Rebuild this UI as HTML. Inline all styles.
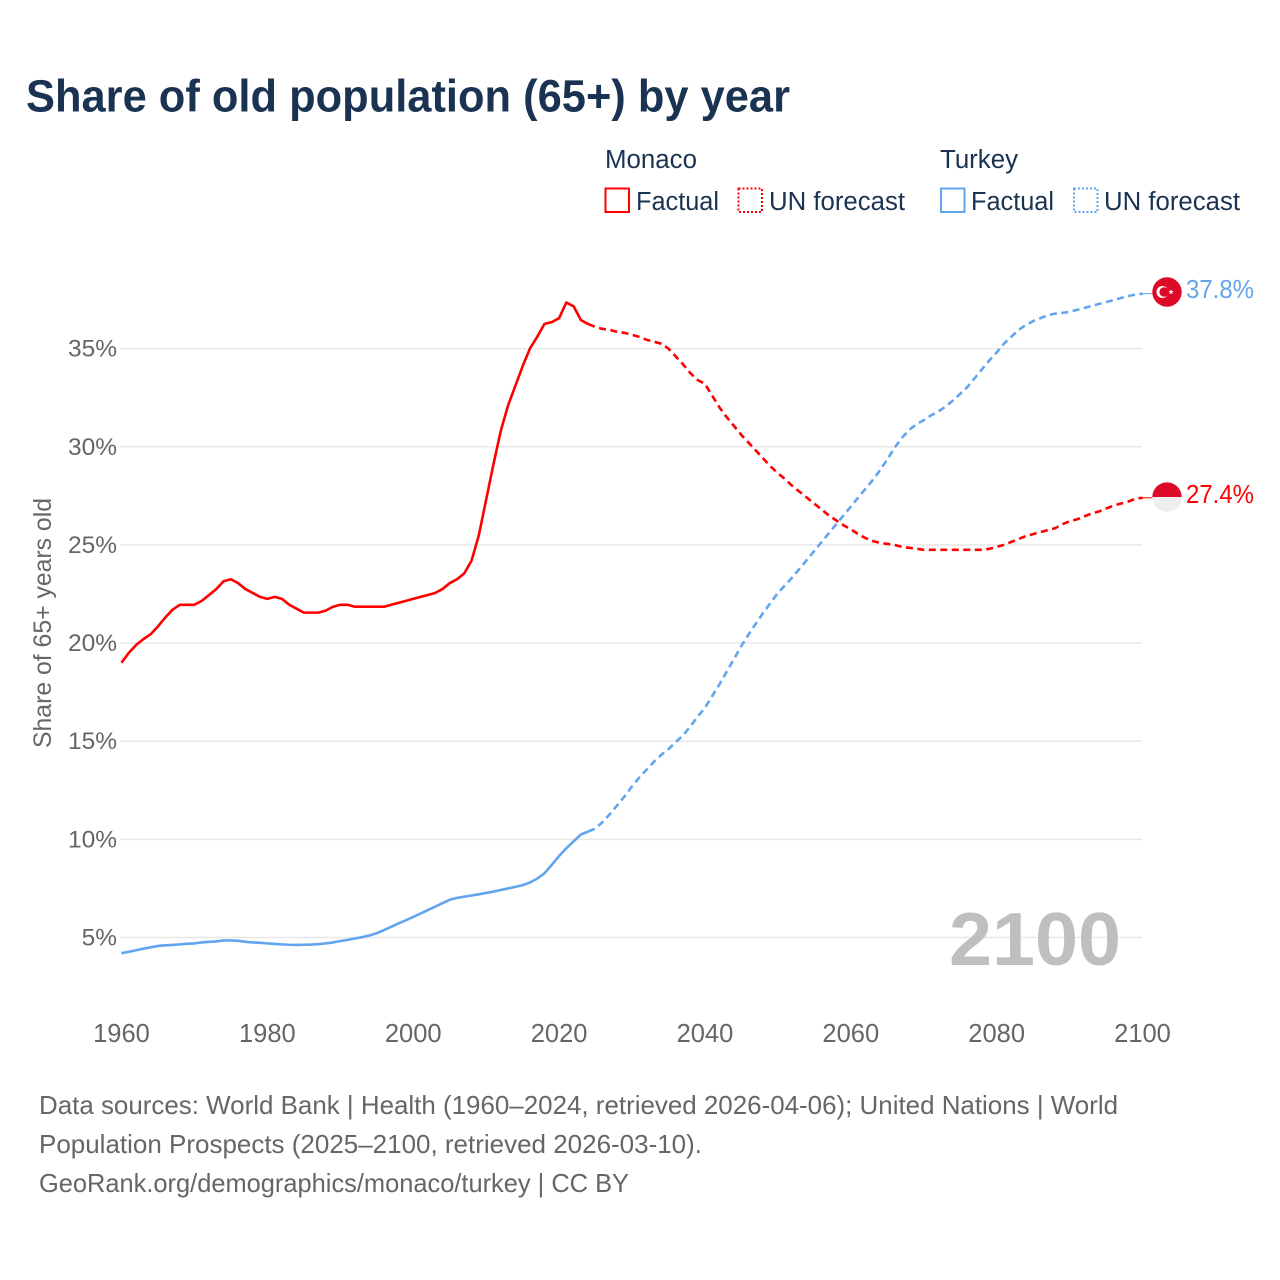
<!DOCTYPE html>
<html lang="en">
<head>
<meta charset="utf-8">
<title>Share of old population (65+) by year</title>
<style>
html,body{margin:0;padding:0;background:#fff;width:1280px;height:1280px;overflow:hidden}
svg{display:block}
text{font-family:"Liberation Sans",sans-serif}
</style>
</head>
<body>
<svg id="chart" xmlns="http://www.w3.org/2000/svg" width="1280" height="1280" viewBox="0 0 1280 1280">
  <rect width="1280" height="1280" fill="#fff"/>
  <text x="26" y="111.5" font-size="45" font-weight="700" fill="#1a3352" textLength="764" lengthAdjust="spacingAndGlyphs">Share of old population (65+) by year</text>

  <g font-size="25.5" fill="#1a3352">
    <text x="605" y="168" textLength="92" lengthAdjust="spacingAndGlyphs">Monaco</text>
    <rect x="605.5" y="188.5" width="23.5" height="23.5" fill="none" stroke="#ff0000" stroke-width="2"/>
    <text x="636" y="210" textLength="83" lengthAdjust="spacingAndGlyphs">Factual</text>
    <rect x="738.5" y="188.5" width="23.5" height="23.5" fill="none" stroke="#ff0000" stroke-width="2" stroke-dasharray="2 2"/>
    <text x="769" y="210" textLength="136" lengthAdjust="spacingAndGlyphs">UN forecast</text>
    <text x="940" y="168" textLength="78" lengthAdjust="spacingAndGlyphs">Turkey</text>
    <rect x="941" y="188.5" width="23.5" height="23.5" fill="none" stroke="#60a5ee" stroke-width="2"/>
    <text x="971" y="210" textLength="83" lengthAdjust="spacingAndGlyphs">Factual</text>
    <rect x="1074" y="188.5" width="23.5" height="23.5" fill="none" stroke="#60a5ee" stroke-width="2" stroke-dasharray="2 2"/>
    <text x="1104" y="210" textLength="136" lengthAdjust="spacingAndGlyphs">UN forecast</text>
  </g>

  <g id="grid"></g>
  <g id="y-ticks"></g>
  <g id="x-ticks"></g>
  <text transform="translate(51,748) rotate(-90)" font-size="25" fill="#666" textLength="250" lengthAdjust="spacingAndGlyphs">Share of 65+ years old</text>
  <text x="949" y="965" font-size="75" font-weight="700" fill="#bfbfbf" textLength="172" lengthAdjust="spacingAndGlyphs">2100</text>

  <g id="series"></g>

  <g>
    <circle cx="1167" cy="292" r="14.7" fill="#dc0a28"/>
    <circle cx="1162.5" cy="292" r="6" fill="#fff"/>
    <circle cx="1164.2" cy="292" r="4.8" fill="#dc0a28"/>
    <polygon points="1171,289.2 1171.7,291.1 1173.7,291.1 1172.1,292.4 1172.7,294.3 1171,293.2 1169.3,294.3 1169.9,292.4 1168.3,291.1 1170.3,291.1" fill="#fff"/>
  </g>
  <g>
    <circle cx="1167" cy="497" r="14.7" fill="#eeeeee"/>
    <path d="M1152.3 497 A14.7 14.7 0 0 1 1181.7 497 Z" fill="#dc0a28"/>
  </g>
  <text id="end-label-turkey" x="1186" y="298" font-size="25.5" fill="#60a5ee" textLength="68" lengthAdjust="spacingAndGlyphs"></text>
  <text id="end-label-monaco" x="1186" y="503" font-size="25.5" fill="#ff0000" textLength="68" lengthAdjust="spacingAndGlyphs"></text>

  <g font-size="26" fill="#666">
    <text x="39" y="1114" textLength="1079" lengthAdjust="spacingAndGlyphs">Data sources: World Bank | Health (1960–2024, retrieved 2026-04-06); United Nations | World</text>
    <text x="39" y="1153" textLength="663" lengthAdjust="spacingAndGlyphs">Population Prospects (2025–2100, retrieved 2026-03-10).</text>
    <text x="39" y="1192" textLength="590" lengthAdjust="spacingAndGlyphs">GeoRank.org/demographics/monaco/turkey | CC BY</text>
  </g>
</svg>

<script>
const factualStartYear = 1960;
const forecastStartYear = 2024;
const yTickValues = [5, 10, 15, 20, 25, 30, 35];
const yTickLabels = ["5%", "10%", "15%", "20%", "25%", "30%", "35%"];
const xTickValues = [1960, 1980, 2000, 2020, 2040, 2060, 2080, 2100];
const xTickLabels = ["1960", "1980", "2000", "2020", "2040", "2060", "2080", "2100"];

// 1960 to 2024, ten values per row
const monacoFactual = [
  19.0,19.5,19.9,20.2,20.45,20.85,21.3,21.7,21.95,21.95,
  21.95,22.15,22.45,22.75,23.15,23.25,23.05,22.75,22.55,22.35,
  22.25,22.35,22.25,21.95,21.75,21.55,21.55,21.55,21.65,21.85,
  21.95,21.95,21.85,21.85,21.85,21.85,21.85,21.95,22.05,22.15,
  22.25,22.35,22.45,22.55,22.75,23.05,23.25,23.55,24.2,25.5,
  27.3,29.1,30.8,32.1,33.1,34.1,35.0,35.6,36.26,36.35,
  36.55,37.35,37.15,36.45,36.25
];

// 2024 to 2100: first row seven values (2024-2030), then ten per row
const monacoForecast = [
  36.25,36.1,36.0,35.95,35.85,35.8,35.7,
  35.6,35.45,35.35,35.25,35.0,34.6,34.2,33.75,33.4,33.2,
  32.6,32.0,31.5,31.05,30.6,30.2,29.8,29.4,29.0,28.65,
  28.35,28.0,27.7,27.4,27.1,26.8,26.5,26.25,26.0,25.8,
  25.55,25.35,25.2,25.1,25.05,25.0,24.9,24.85,24.8,24.75,
  24.75,24.75,24.75,24.75,24.75,24.75,24.75,24.75,24.8,24.9,
  25.0,25.15,25.3,25.45,25.55,25.65,25.75,25.85,26.05,26.2,
  26.3,26.45,26.6,26.7,26.85,27.0,27.1,27.2,27.35,27.4
];

// 1960 to 2024, ten values per row
const turkeyFactual = [
  4.2,4.27,4.35,4.43,4.5,4.57,4.6,4.62,4.65,4.68,
  4.7,4.75,4.78,4.8,4.85,4.85,4.83,4.78,4.75,4.73,
  4.7,4.67,4.65,4.63,4.62,4.63,4.64,4.66,4.7,4.75,
  4.82,4.88,4.95,5.02,5.1,5.22,5.38,5.55,5.72,5.88,
  6.05,6.22,6.4,6.57,6.75,6.92,7.02,7.08,7.14,7.2,
  7.27,7.34,7.42,7.5,7.58,7.67,7.8,8.0,8.27,8.7,
  9.15,9.55,9.9,10.25,10.4
];

// 2024 to 2100: first row seven values (2024-2030), then ten per row
const turkeyForecast = [
  10.4,10.55,10.9,11.3,11.75,12.2,12.7,
  13.15,13.55,13.95,14.3,14.6,14.95,15.3,15.75,16.25,16.7,
  17.3,17.9,18.55,19.2,19.85,20.45,21.0,21.55,22.05,22.55,
  22.95,23.35,23.8,24.25,24.7,25.15,25.6,26.05,26.5,26.95,
  27.4,27.85,28.3,28.8,29.35,29.95,30.45,30.85,31.15,31.35,
  31.6,31.8,32.05,32.35,32.7,33.05,33.5,33.95,34.4,34.8,
  35.25,35.6,35.95,36.2,36.4,36.55,36.7,36.78,36.82,36.87,
  36.97,37.07,37.17,37.27,37.37,37.47,37.57,37.67,37.75,37.8
];

const svgNS = "http://www.w3.org/2000/svg";
const xOf = function (year) { return 121.5 + (year - 1960) * 7.293; };
const yOf = function (value) { return 937.5 - (value - 5) * 19.63; };

function node(tag, parent) {
  const el = document.createElementNS(svgNS, tag);
  parent.appendChild(el);
  return el;
}

function pathFrom(values, startYear) {
  return values.map(function (v, i) {
    return (i ? "L" : "M") + xOf(startYear + i).toFixed(2) + " " + yOf(v).toFixed(2);
  }).join(" ");
}

const gridGroup = document.getElementById("grid");
const yTickGroup = document.getElementById("y-ticks");
yTickValues.forEach(function (v, i) {
  const line = node("line", gridGroup);
  
  
  line.setAttribute("x1", 120);
  line.setAttribute("x2", 1142);
  line.setAttribute("y1", yOf(v));
  line.setAttribute("y2", yOf(v));
  line.setAttribute("stroke", "#e8e8e8");
  line.setAttribute("stroke-width", "1.5");

  const label = node("text", yTickGroup);
  
  
  label.setAttribute("x", 117);
  label.setAttribute("y", yOf(v) + 8);
  label.setAttribute("text-anchor", "end");
  label.setAttribute("font-size", "24.5");
  label.setAttribute("fill", "#666");
  label.textContent = yTickLabels[i];
});

const xTickGroup = document.getElementById("x-ticks");
xTickValues.forEach(function (year, i) {
  const label = node("text", xTickGroup);
  
  
  label.setAttribute("x", xOf(year));
  label.setAttribute("y", 1042);
  label.setAttribute("text-anchor", "middle");
  label.setAttribute("font-size", "25.5");
  label.setAttribute("fill", "#666");
  label.textContent = xTickLabels[i];
});

const seriesGroup = document.getElementById("series");

const turkeyFactualLine = node("path", seriesGroup);


turkeyFactualLine.setAttribute("d", pathFrom(turkeyFactual, factualStartYear));
turkeyFactualLine.setAttribute("fill", "none");
turkeyFactualLine.setAttribute("stroke", "#60a5ee");
turkeyFactualLine.setAttribute("stroke-width", "2.6");
turkeyFactualLine.setAttribute("stroke-linejoin", "round");

const monacoFactualLine = node("path", seriesGroup);


monacoFactualLine.setAttribute("d", pathFrom(monacoFactual, factualStartYear));
monacoFactualLine.setAttribute("fill", "none");
monacoFactualLine.setAttribute("stroke", "#ff0000");
monacoFactualLine.setAttribute("stroke-width", "2.6");
monacoFactualLine.setAttribute("stroke-linejoin", "round");

const monacoForecastLine = node("path", seriesGroup);


monacoForecastLine.setAttribute("d", pathFrom(monacoForecast, forecastStartYear));
monacoForecastLine.setAttribute("fill", "none");
monacoForecastLine.setAttribute("stroke", "#ff0000");
monacoForecastLine.setAttribute("stroke-width", "2.6");
monacoForecastLine.setAttribute("stroke-linejoin", "round");
monacoForecastLine.setAttribute("stroke-dasharray", "7 4.5");

const turkeyForecastLine = node("path", seriesGroup);


turkeyForecastLine.setAttribute("d", pathFrom(turkeyForecast, forecastStartYear));
turkeyForecastLine.setAttribute("fill", "none");
turkeyForecastLine.setAttribute("stroke", "#60a5ee");
turkeyForecastLine.setAttribute("stroke-width", "2.6");
turkeyForecastLine.setAttribute("stroke-linejoin", "round");
turkeyForecastLine.setAttribute("stroke-dasharray", "7 4.5");

const lastTurkey = turkeyForecast[turkeyForecast.length - 1];
const lastMonaco = monacoForecast[monacoForecast.length - 1];

const turkeyConnector = node("line", seriesGroup);


turkeyConnector.setAttribute("x1", xOf(2100));
turkeyConnector.setAttribute("x2", 1153);
turkeyConnector.setAttribute("y1", yOf(lastTurkey));
turkeyConnector.setAttribute("y2", yOf(lastTurkey));
turkeyConnector.setAttribute("stroke", "#60a5ee");
turkeyConnector.setAttribute("stroke-width", "1");

const monacoConnector = node("line", seriesGroup);


monacoConnector.setAttribute("x1", xOf(2100));
monacoConnector.setAttribute("x2", 1153);
monacoConnector.setAttribute("y1", yOf(lastMonaco));
monacoConnector.setAttribute("y2", yOf(lastMonaco));
monacoConnector.setAttribute("stroke", "#ff0000");
monacoConnector.setAttribute("stroke-width", "1");

document.getElementById("end-label-turkey").textContent = lastTurkey.toFixed(1) + "%";
document.getElementById("end-label-monaco").textContent = lastMonaco.toFixed(1) + "%";
</script>
</body>
</html>
